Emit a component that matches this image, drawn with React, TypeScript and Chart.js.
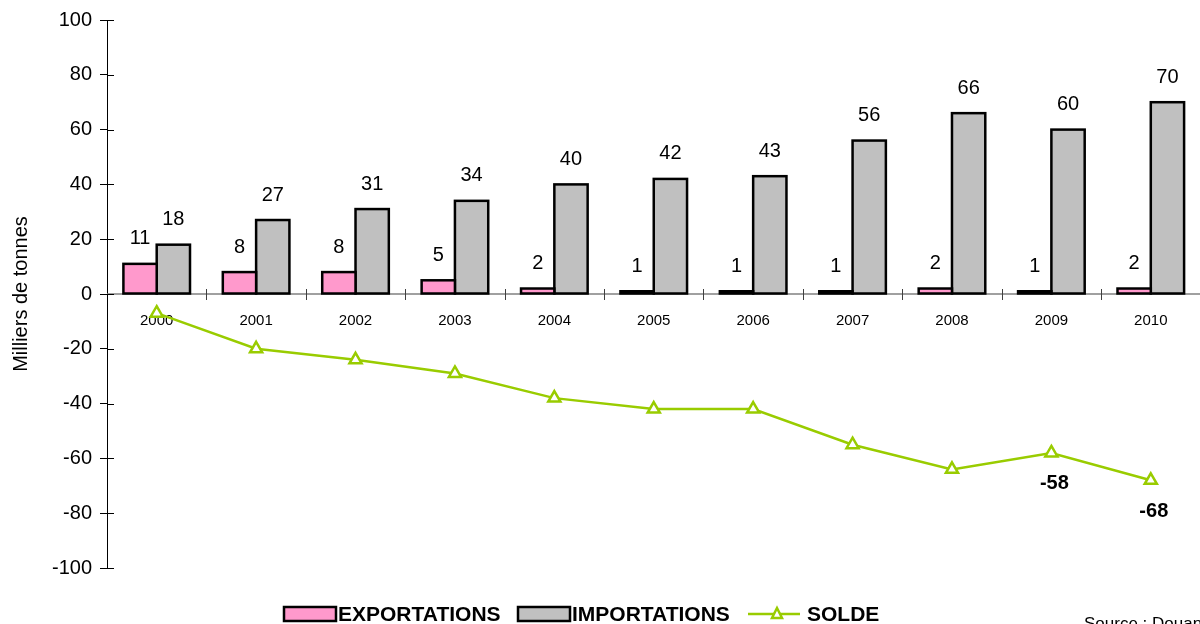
import React, { useEffect, useRef } from "react";
import { Chart, registerables } from "chart.js";

Chart.register(...registerables);

const years = ["2000", "2001", "2002", "2003", "2004", "2005", "2006", "2007", "2008", "2009", "2010"];
const exportations = [11, 8, 8, 5, 2, 1, 1, 1, 2, 1, 2];
const importations = [18, 27, 31, 34, 40, 42, 43, 56, 66, 60, 70];
const solde = [-7, -20, -24, -29, -38, -42, -42, -55, -64, -58, -68];
const soldeLabels = ["", "", "", "", "", "", "", "", "", "-58", "-68"];
const legendLabels = ["EXPORTATIONS", "IMPORTATIONS", "SOLDE"];
const yTitle = "Milliers de tonnes";
const sourceText = "Source : Douanes";

const PINK = "#FF99CC";
const GRAY = "#C0C0C0";
const GREEN = "#99CC00";
const FONT = "'Liberation Sans', Arial, sans-serif";

const customDraw = {
  id: "customDraw",
  beforeDatasetsDraw(chart: any) {
    const { ctx, chartArea, scales } = chart;
    const x = scales.x;
    const y = scales.y;
    const y0 = y.getPixelForValue(0);
    ctx.save();
    ctx.strokeStyle = "#808080";
    ctx.lineWidth = 1.5;
    ctx.beginPath();
    ctx.moveTo(chartArea.left, y0);
    ctx.lineTo(chartArea.right + 10, y0);
    ctx.stroke();
    ctx.lineWidth = 1;
    ctx.strokeStyle = "#404040";
    for (let i = 0; i < years.length - 1; i++) {
      const xb = Math.round((x.getPixelForValue(i) + x.getPixelForValue(i + 1)) / 2) + 0.5;
      ctx.beginPath();
      ctx.moveTo(xb, y0 - 5);
      ctx.lineTo(xb, y0 + 6);
      ctx.stroke();
    }
    ctx.strokeStyle = "#000";
    y.ticks.forEach((t: any) => {
      const py = Math.round(y.getPixelForValue(t.value)) + 0.5;
      ctx.beginPath();
      ctx.moveTo(chartArea.left, py);
      ctx.lineTo(chartArea.left + 7, py);
      ctx.stroke();
    });
    ctx.fillStyle = "#000";
    ctx.font = `15px ${FONT}`;
    ctx.textAlign = "center";
    ctx.textBaseline = "middle";
    years.forEach((yr, i) => {
      ctx.fillText(yr, x.getPixelForValue(i), y0 + 27);
    });
    ctx.restore();
  },
  afterDatasetDraw(chart: any, args: any) {
    if (args.index > 1) return;
    const { ctx } = chart;
    const meta = chart.getDatasetMeta(args.index);
    ctx.save();
    ctx.strokeStyle = "#000";
    ctx.lineWidth = 2.5;
    ctx.lineJoin = "miter";
    meta.data.forEach((bar: any) => {
      const p = bar.getProps(["x", "y", "base", "width"], true);
      const left = p.x - p.width / 2;
      const top = Math.min(p.y, p.base);
      const h = Math.abs(p.base - p.y);
      ctx.strokeRect(left, top, p.width, h);
    });
    ctx.restore();
  },
  afterDatasetsDraw(chart: any) {
    const { ctx } = chart;
    ctx.save();
    ctx.fillStyle = "#000";
    ctx.textAlign = "center";
    ctx.textBaseline = "middle";
    ctx.font = `20px ${FONT}`;
    [0, 1].forEach((di) => {
      const meta = chart.getDatasetMeta(di);
      const vals = di === 0 ? exportations : importations;
      meta.data.forEach((bar: any, i: number) => {
        ctx.fillText(String(vals[i]), bar.x, bar.y - 25);
      });
    });
    ctx.font = `bold 20px ${FONT}`;
    const lm = chart.getDatasetMeta(2);
    lm.data.forEach((pt: any, i: number) => {
      if (soldeLabels[i]) ctx.fillText(soldeLabels[i], pt.x + 3, pt.y + 31);
    });

    // legend
    const ly = 614;
    ctx.textAlign = "left";
    ctx.textBaseline = "middle";
    ctx.font = `bold 21px ${FONT}`;
    const drawBox = (x0: number, color: string) => {
      ctx.fillStyle = color;
      ctx.fillRect(x0, ly - 7, 52, 14);
      ctx.strokeStyle = "#000";
      ctx.lineWidth = 2.5;
      ctx.strokeRect(x0, ly - 7, 52, 14);
    };
    drawBox(284, PINK);
    ctx.fillStyle = "#000";
    ctx.fillText(legendLabels[0], 338, ly + 1);
    drawBox(518, GRAY);
    ctx.fillStyle = "#000";
    ctx.fillText(legendLabels[1], 572, ly + 1);
    ctx.strokeStyle = GREEN;
    ctx.lineWidth = 2.5;
    ctx.beginPath();
    ctx.moveTo(748, ly);
    ctx.lineTo(800, ly);
    ctx.stroke();
    ctx.fillStyle = "#fff";
    ctx.beginPath();
    ctx.moveTo(777, ly - 6);
    ctx.lineTo(782, ly + 4);
    ctx.lineTo(772, ly + 4);
    ctx.closePath();
    ctx.fill();
    ctx.stroke();
    ctx.fillStyle = "#000";
    ctx.fillText(legendLabels[2], 807, ly + 1);

    ctx.font = `17px ${FONT}`;
    ctx.textBaseline = "top";
    ctx.fillText(sourceText, 1084, 616);
    ctx.restore();
  },
};

export default function App() {
  const ref = useRef<HTMLCanvasElement>(null);
  useEffect(() => {
    document.documentElement.style.overflow = "hidden";
    const chart = new Chart(ref.current as HTMLCanvasElement, {
      type: "bar",
      data: {
        labels: years,
        datasets: [
          {
            type: "bar",
            label: legendLabels[0],
            data: exportations,
            backgroundColor: PINK,
            borderWidth: 0,
            categoryPercentage: 0.67,
            barPercentage: 1,
            order: 2,
          },
          {
            type: "bar",
            label: legendLabels[1],
            data: importations,
            backgroundColor: GRAY,
            borderWidth: 0,
            categoryPercentage: 0.67,
            barPercentage: 1,
            order: 2,
          },
          {
            type: "line",
            label: legendLabels[2],
            data: solde,
            borderColor: GREEN,
            borderWidth: 2.5,
            pointStyle: "triangle",
            pointRadius: 7,
            pointBorderWidth: 2.5,
            pointBackgroundColor: "#fff",
            pointBorderColor: GREEN,
            tension: 0,
            order: 1,
          } as any,
        ],
      },
      options: {
        responsive: false,
        animation: false,
        layout: { padding: { top: 20, right: 3, bottom: 56, left: 0 } },
        plugins: { legend: { display: false }, tooltip: { enabled: false } },
        scales: {
          x: { display: false, offset: true },
          y: {
            min: -100,
            max: 100,
            afterFit: (s: any) => {
              s.width = 107;
            },
            ticks: {
              stepSize: 20,
              color: "#000",
              padding: 8,
              font: { size: 20, family: FONT },
            },
            grid: {
              drawOnChartArea: false,
              drawTicks: true,
              tickLength: 7,
              color: "#000",
            },
            border: { display: true, color: "#000", width: 1 },
            title: {
              display: true,
              text: yTitle,
              color: "#000",
              padding: { top: 9, bottom: 0 },
              font: { size: 20, family: FONT },
            },
          },
        },
      },
      plugins: [customDraw],
    });
    return () => chart.destroy();
  }, []);
  return (
    <canvas
      ref={ref}
      width={1210}
      height={624}
      style={{ position: "fixed", left: 0, top: 0 }}
    />
  );
}
